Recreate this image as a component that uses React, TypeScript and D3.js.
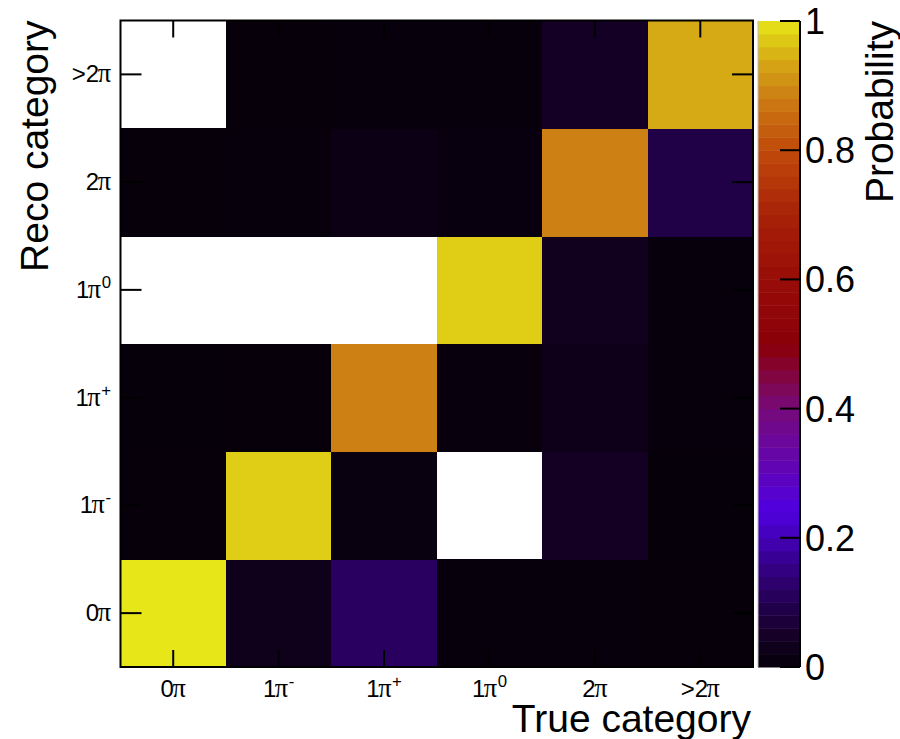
import React from "react";
import * as d3 from "d3";

// ---- data ----
const categoryBase = ["0", "1", "1", "1", "2", ">2"];
const categorySup = ["", "-", "+", "0", "", ""];

// probabilities per TRUE category, listed over RECO categories (0π, 1π-, 1π+, 1π0, 2π, >2π); null = empty bin
const true0pi = [1.0, 0.005, 0.004, null, 0.005, null];
const true1piMinus = [0.03, 0.975, 0.005, null, 0.006, 0.005];
const true1piPlus = [0.115, 0.012, 0.885, null, 0.02, 0.006];
const true1pi0 = [0.006, null, 0.008, 0.975, 0.01, 0.006];
const true2pi = [0.006, 0.04, 0.025, 0.035, 0.885, 0.045];
const trueMore2pi = [0.005, 0.004, 0.006, 0.006, 0.085, 0.94];

const columns = [true0pi, true1piMinus, true1piPlus, true1pi0, true2pi, trueMore2pi];

const colorbarTicks = [0, 0.2, 0.4, 0.6, 0.8, 1];
const paletteStops = [0, 0.05, 0.12, 0.243, 0.4, 0.5, 0.6, 0.7, 0.8, 0.88, 0.94, 1.0];
const paletteColors = ["#050008", "#160028", "#2a0064", "#5000e0", "#780a7a", "#8a0008", "#980c08", "#a82208", "#c04a0a", "#cc7c14", "#d6aa14", "#e6e618"];

const W = 900;
const H = 739;
const M = { left: 120.5, right: 753, top: 20.5, bottom: 667 };
const CB = { left: 758, right: 800, top: 21, bottom: 667 };
const SANS = "'Liberation Sans', Arial, Helvetica, sans-serif";
const SERIF = "'Liberation Serif', 'DejaVu Serif', serif";

function CatLabel({ i, x, y, anchor, size }: { i: number; x: number; y: number; anchor: string; size: number }) {
  const sup = categorySup[i];
  return (
    <text x={x} y={y} textAnchor={anchor} fontFamily={SANS} fontSize={size} fill="#000">
      <tspan>{categoryBase[i]}</tspan>
      <tspan fontFamily={SERIF} fontSize={size * 1.1} dx={-1.5}>π</tspan>
      {sup ? (
        <tspan fontSize={size * 0.7} dy={-size * 0.42} dx={0.5}>{sup}</tspan>
      ) : null}
    </text>
  );
}

export default function App() {
  const idx = d3.range(categoryBase.length).map(String);
  const x = d3.scaleBand<string>().domain(idx).range([M.left, M.right]);
  const y = d3.scaleBand<string>().domain(idx).range([M.bottom, M.top]);
  const color = d3
    .scaleLinear<string>()
    .domain(paletteStops)
    .range(paletteColors)
    .interpolate(d3.interpolateRgb)
    .clamp(true);
  const cy = d3.scaleLinear().domain([0, 1]).range([CB.bottom, CB.top]);

  const nBands = 50;
  const bands = d3.range(nBands).map((k) => k / nBands);

  const cells: { c: number; r: number; v: number }[] = [];
  columns.forEach((col, c) =>
    col.forEach((v, r) => {
      if (v !== null) cells.push({ c, r, v });
    })
  );

  return (
    <svg width={W} height={H} style={{ position: "absolute", left: 0, top: 0, background: "#fff" }}>
      <rect x={0} y={0} width={W} height={H} fill="#fff" />
      {/* cells */}
      {cells.map(({ c, r, v }) => (
        <rect
          key={`${c}-${r}`}
          x={x(String(c))!}
          y={y(String(r))!}
          width={x.bandwidth() + 0.6}
          height={y.bandwidth() + 0.6}
          fill={color(v)}
          shapeRendering="crispEdges"
        />
      ))}
      {/* ticks */}
      {idx.map((d) => {
        const cx = x(d)! + x.bandwidth() / 2;
        const yy = y(d)! + y.bandwidth() / 2;
        return (
          <g key={"t" + d} stroke="#000" strokeWidth={2}>
            <line x1={cx} x2={cx} y1={M.bottom} y2={M.bottom - 17} />
            <line x1={cx} x2={cx} y1={M.top} y2={M.top + 17} />
            <line x1={M.left} x2={M.left + 21} y1={yy} y2={yy} />
            <line x1={M.right} x2={M.right - 21} y1={yy} y2={yy} />
          </g>
        );
      })}
      {/* frame */}
      <rect x={M.left} y={M.top} width={M.right - M.left} height={M.bottom - M.top} fill="none" stroke="#000" strokeWidth={2} />
      {/* x labels */}
      {idx.map((d, i) => (
        <CatLabel key={"xl" + d} i={i} x={x(d)! + x.bandwidth() / 2} y={697} anchor="middle" size={24} />
      ))}
      {/* y labels */}
      {idx.map((d, i) => (
        <CatLabel key={"yl" + d} i={i} x={111} y={y(d)! + y.bandwidth() / 2 + 8} anchor="end" size={24} />
      ))}
      {/* axis titles */}
      <text x={751} y={732} textAnchor="end" fontFamily={SANS} fontSize={39} fill="#000">
        True category
      </text>
      <text
        transform={`translate(48, ${M.top}) rotate(-90)`}
        textAnchor="end"
        fontFamily={SANS}
        fontSize={39}
        fill="#000"
      >
        Reco category
      </text>
      {/* colorbar */}
      {bands.map((b) => (
        <rect
          key={"b" + b}
          x={CB.left}
          y={cy(b + 1 / nBands)}
          width={CB.right - CB.left}
          height={cy(b) - cy(b + 1 / nBands) + 0.5}
          fill={color(b + 0.5 / nBands)}
        />
      ))}
      <line x1={CB.left} x2={CB.left} y1={CB.top} y2={CB.bottom} stroke="#bbb" strokeWidth={1} />
      <line x1={CB.right} x2={CB.right} y1={CB.top} y2={CB.bottom} stroke="#000" strokeWidth={2} />
      {colorbarTicks.map((t) => (
        <g key={"cb" + t}>
          <line x1={CB.right} x2={CB.right - 20} y1={cy(t)} y2={cy(t)} stroke="#000" strokeWidth={2} />
          <text x={805} y={cy(t) + 13} fontFamily={SANS} fontSize={36} fill="#000">
            {d3.format("~g")(t)}
          </text>
        </g>
      ))}
      <text
        transform={`translate(893, ${CB.top}) rotate(-90)`}
        textAnchor="end"
        fontFamily={SANS}
        fontSize={39}
        fill="#000"
      >
        Probability
      </text>
    </svg>
  );
}
